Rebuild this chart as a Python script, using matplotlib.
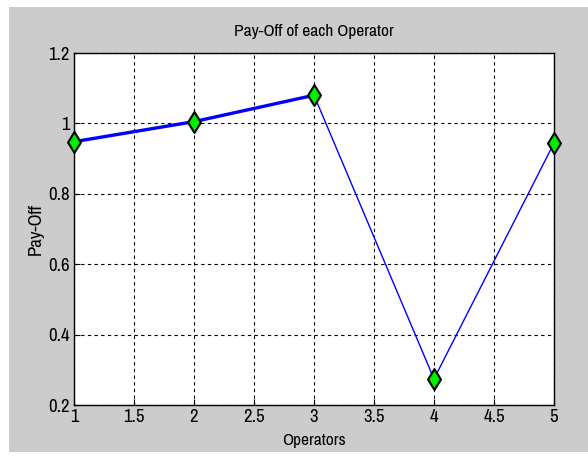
import matplotlib
matplotlib.use("Agg")
import matplotlib.pyplot as plt
from matplotlib.patches import Rectangle
from matplotlib.path import Path

# Pay-off values
operators = [1, 2, 3, 4, 5]
payoff = [0.948, 1.005, 1.08, 0.274, 0.944]
n_thick = 3  # first segments are drawn heavier in the original

x_ticks = [1, 1.5, 2, 2.5, 3, 3.5, 4, 4.5, 5]
y_ticks = [0.2, 0.4, 0.6, 0.8, 1.0, 1.2]
y_ticklabels = ["0.2", "0.4", "0.6", "0.8", "1", "1.2"]

plt.rcParams['font.family'] = ['Liberation Sans Narrow', 'Archivo Narrow', 'DejaVu Sans']

# tall diamond like MATLAB's 'd' marker
diamond = Path([(0, 1), (0.62, 0), (0, -1), (-0.62, 0), (0, 1)],
               [Path.MOVETO, Path.LINETO, Path.LINETO, Path.LINETO, Path.CLOSEPOLY])

fig = plt.figure(figsize=(5.88, 4.72), dpi=100, facecolor="white")
W, H = 588, 472
# grey figure background, with a thin white margin top/left
fig.add_artist(Rectangle((9 / W, (H - 452) / H), (W - 9) / W, (452 - 7) / H,
                         transform=fig.transFigure, facecolor="#cccccc",
                         edgecolor="none", zorder=-10))

ax = fig.add_axes([74 / W, (H - 405) / H, (554 - 74) / W, (405 - 53) / H])
ax.set_facecolor("white")

ax.plot(operators, payoff, color="blue", lw=1.0, zorder=3)
ax.plot(operators[:n_thick], payoff[:n_thick], color="blue", lw=2.4, zorder=3)
ax.plot(operators, payoff, ls="none", marker=diamond, ms=15, mfc="#00ee00",
        mec="black", mew=1.5, zorder=4, clip_on=False)

ax.set_xlim(1, 5)
ax.set_ylim(0.2, 1.2)
ax.set_xticks(x_ticks)
ax.set_xticklabels([f"{t:g}" for t in x_ticks])
ax.set_yticks(y_ticks)
ax.set_yticklabels(y_ticklabels)
ax.tick_params(direction="in", length=4, labelsize=13.5, pad=3, colors="black")
ax.grid(True, color="black", ls=(0, (3, 3)), lw=0.8)
for s in ax.spines.values():
    s.set_linewidth(1.0)

ax.set_title("Pay-Off of each Operator", fontsize=12.5, pad=12)
ax.set_xlabel("Operators", fontsize=12.5, labelpad=6)
ax.set_ylabel("Pay-Off", fontsize=13.5, labelpad=3)

fig.savefig("out.png", dpi=100, facecolor=fig.get_facecolor())
